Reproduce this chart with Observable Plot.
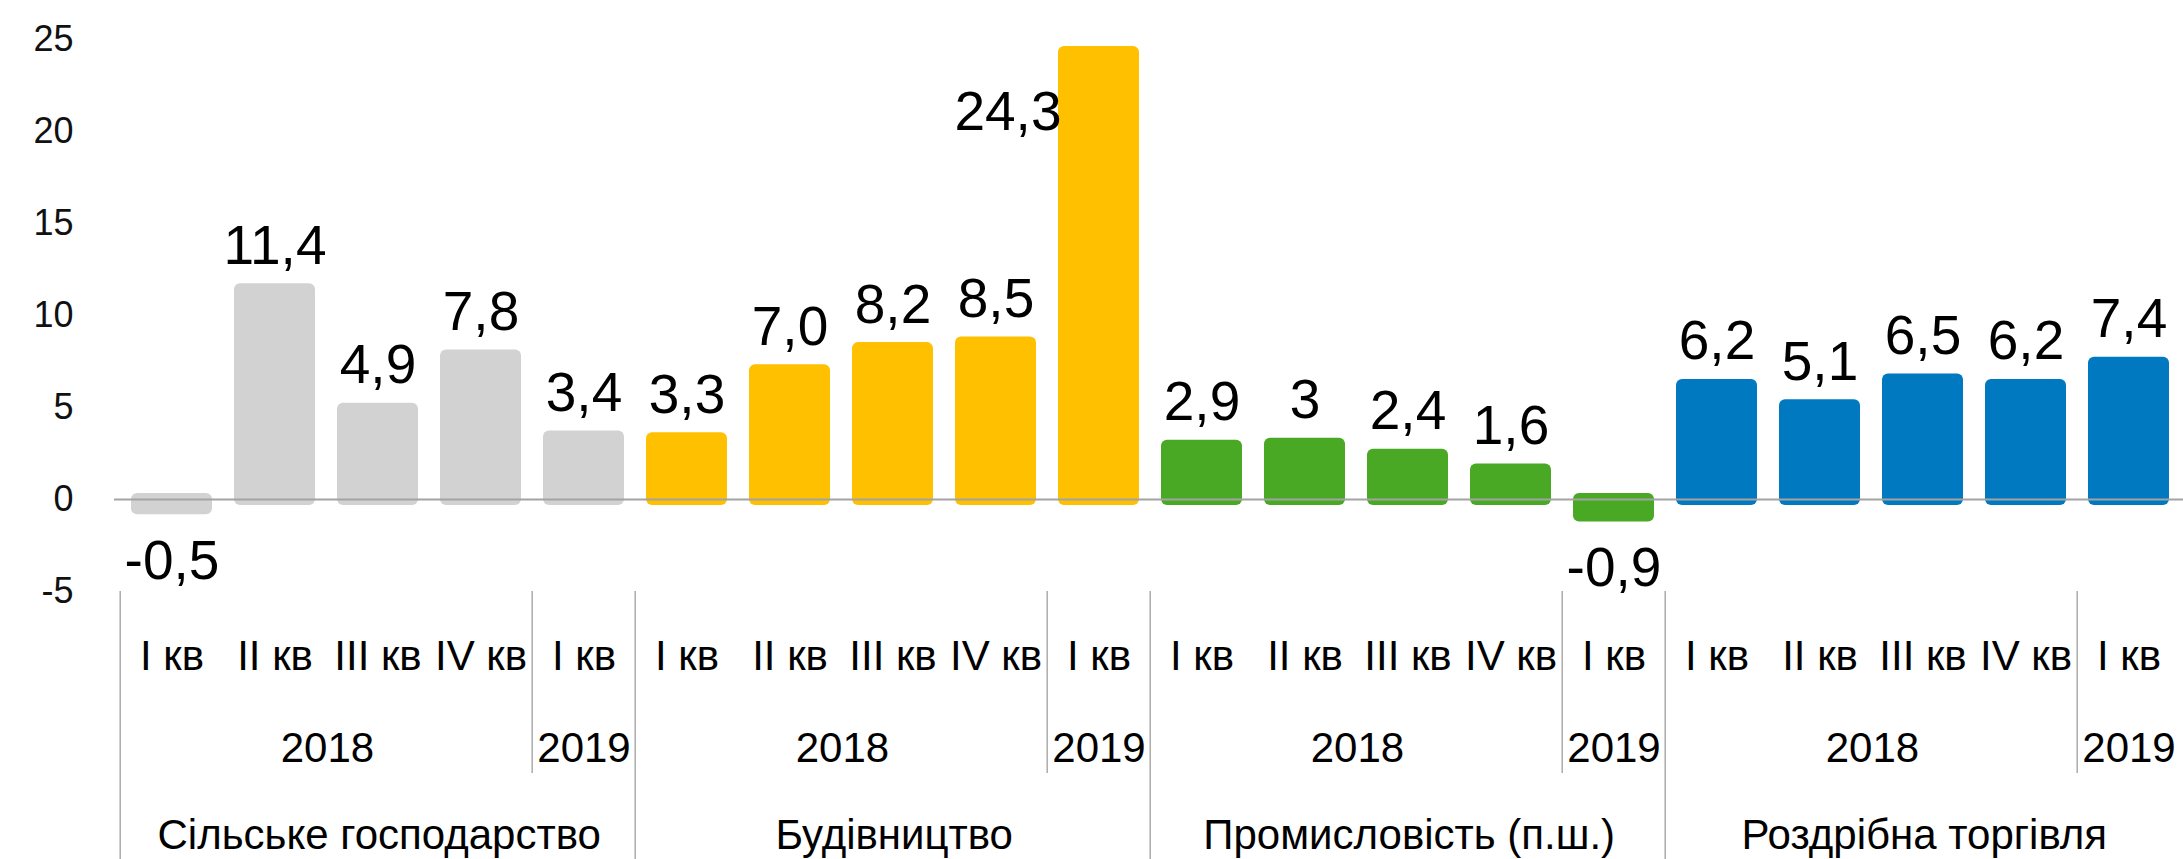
<!DOCTYPE html>
<html>
<head>
<meta charset="utf-8">
<script src="https://cdn.jsdelivr.net/npm/d3@7"></script>
<script src="https://cdn.jsdelivr.net/npm/@observablehq/plot@0.6"></script>
<style>
  html, body { margin: 0; padding: 0; background: #fff; overflow: hidden; }
</style>
</head>
<body>
<div id="chart"></div>
<script>
// ---- data ----
const sectors = ["Сільське господарство", "Будівництво", "Промисловість (п.ш.)", "Роздрібна торгівля"];
const sectorColors = ["#D3D2D3", "#FFC000", "#49A824", "#0079C1"];
const quarters = ["I кв", "II кв", "III кв", "IV кв", "I кв"];
const years = ["2018", "2018", "2018", "2018", "2019"];
const agricultureValues = [-0.5, 11.4, 4.9, 7.8, 3.4];
const constructionValues = [3.3, 7.0, 8.2, 8.5, 24.3];
const industryValues = [2.9, 3, 2.4, 1.6, -0.9];
const retailValues = [6.2, 5.1, 6.5, 6.2, 7.4];
const agricultureLabels = ["-0,5", "11,4", "4,9", "7,8", "3,4"];
const constructionLabels = ["3,3", "7,0", "8,2", "8,5", "24,3"];
const industryLabels = ["2,9", "3", "2,4", "1,6", "-0,9"];
const retailLabels = ["6,2", "5,1", "6,5", "6,2", "7,4"];
const yTicks = [-5, 0, 5, 10, 15, 20, 25];

const sectorValues = [agricultureValues, constructionValues, industryValues, retailValues];
const sectorLabels = [agricultureLabels, constructionLabels, industryLabels, retailLabels];

// ---- table ----
const rows = [];
sectors.forEach((s, si) => {
  quarters.forEach((q, qi) => {
    rows.push({
      key: `${si}|${qi}`, sector: s, sectorIndex: si, qi,
      quarter: q, year: years[qi],
      value: sectorValues[si][qi], label: sectorLabels[si][qi],
      color: sectorColors[si]
    });
  });
});
const keys = rows.map(d => d.key);

// ---- layout ----
const W = 2183, H = 859;
const ML = 114, MR = -3, MT = 39, MB = 268;
const padIn = 0.218, padOut = padIn / 2;
const step = (W - ML - MR) / keys.length;
const bw = step * (1 - padIn);
const frameBottom = H - MB;
const FONT = "'Liberation Sans', Arial, sans-serif";
const sepColor = "#ababab";
const axisFont = 42;

// runs of years within each sector
const yearRuns = [];
sectors.forEach((s, si) => {
  let start = 0;
  for (let i = 1; i <= years.length; i++) {
    if (i === years.length || years[i] !== years[start]) {
      yearRuns.push({sectorIndex: si, start, len: i - start, year: years[start], key: `${si}|${start}`});
      start = i;
    }
  }
});

const marks = [];

// bars
marks.push(Plot.barY(rows, {
  x: "key", y: "value", fill: "color",
  rx: 6, insetTop: -6, insetBottom: -6
}));

// zero line
marks.push(Plot.ruleY([0], {stroke: "#a3a3a3", strokeWidth: 2}));

// y axis
marks.push(Plot.axisY({
  ticks: yTicks, tickSize: 0, tickPadding: 41, fontSize: 36,
  tickFormat: d => String(d), label: null, fill: "#111"
}));

// value labels
marks.push(Plot.text(rows.filter(d => d.value >= 0 && d.value < 20), {
  x: "key", y: "value", text: "label",
  lineAnchor: "bottom", dy: -26, fontSize: 55, fill: "#000"
}));
marks.push(Plot.text(rows.filter(d => d.value < 0), {
  x: "key", y: "value", text: "label",
  lineAnchor: "top", dy: 31, fontSize: 55, fill: "#000"
}));
marks.push(Plot.text(rows.filter(d => d.value >= 20), {
  x: "key", y: "value", text: "label",
  textAnchor: "end", dx: -bw / 2 + 3,
  lineAnchor: "bottom", dy: 78, fontSize: 55, fill: "#000"
}));

// quarter row
marks.push(Plot.text(rows, {
  x: "key", text: "quarter", frameAnchor: "bottom",
  lineAnchor: "bottom", dy: 669 - frameBottom, fontSize: axisFont, fill: "#000"
}));

// year row (one mark per run, centred across the run)
yearRuns.forEach(r => {
  marks.push(Plot.text([r], {
    x: "key", text: "year", frameAnchor: "bottom",
    dx: (r.len - 1) * step / 2,
    lineAnchor: "bottom", dy: 761 - frameBottom, fontSize: axisFont, fill: "#000"
  }));
});

// sector row
marks.push(Plot.text(sectors.map((s, si) => ({key: `${si}|0`, sector: s})), {
  x: "key", text: "sector", frameAnchor: "bottom",
  dx: (quarters.length - 1) * step / 2,
  lineAnchor: "bottom", dy: 848 - frameBottom, fontSize: axisFont, fill: "#000"
}));

// separators
marks.push(Plot.ruleX(sectors.map((s, si) => `${si}|0`), {
  dx: -step / 2, stroke: sepColor, strokeWidth: 1.5,
  insetTop: frameBottom - MT, insetBottom: -(H - frameBottom)
}));
marks.push(Plot.ruleX(yearRuns.filter(r => r.start > 0).map(r => r.key), {
  dx: -step / 2, stroke: sepColor, strokeWidth: 1.5,
  insetTop: frameBottom - MT, insetBottom: -(773 - frameBottom)
}));

const chart = Plot.plot({
  width: W, height: H,
  marginLeft: ML, marginRight: MR, marginTop: MT, marginBottom: MB,
  style: {fontFamily: FONT, background: "#fff", color: "#000", overflow: "visible"},
  x: {domain: keys, paddingInner: padIn, paddingOuter: padOut, axis: null},
  y: {domain: [-5, 25], axis: null},
  color: {type: "identity"},
  marks
});
document.getElementById("chart").appendChild(chart);
</script>
</body>
</html>
